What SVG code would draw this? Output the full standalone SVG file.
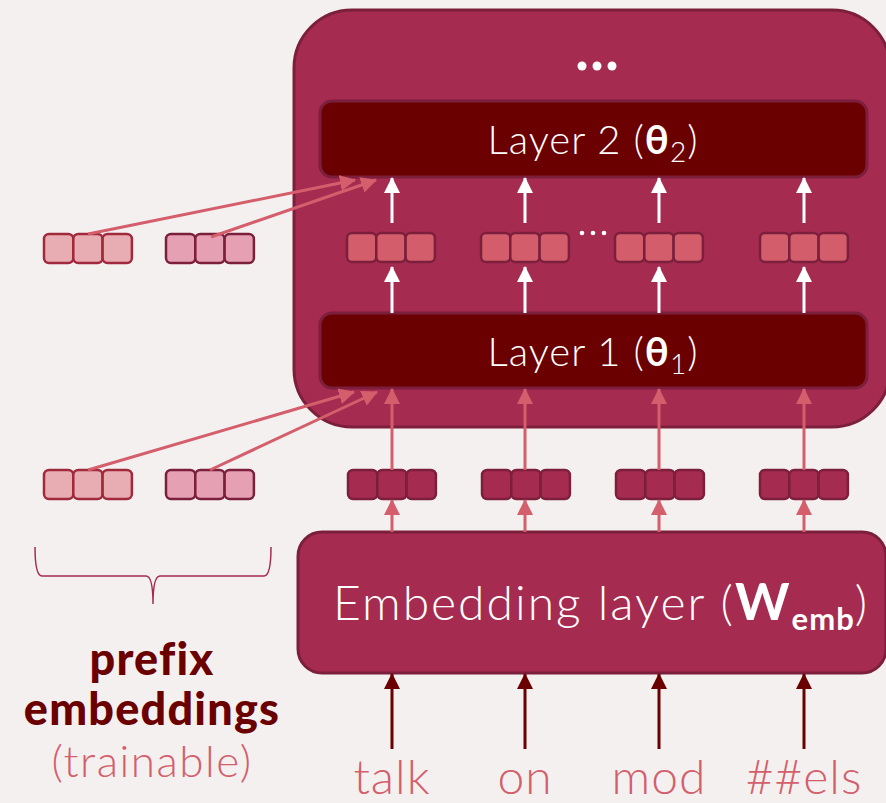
<svg xmlns="http://www.w3.org/2000/svg" width="886" height="803" viewBox="0 0 886 803">
  <defs>
    <style>
      .bg { fill: #f4f0ef; }
      .frame { fill: #a62b50; stroke: #7c1f3c; stroke-width: 3; }
      .layer { fill: #6b0000; stroke: #7c1f3c; stroke-width: 3; }
      .label { font-family: Lato, "Open Sans", sans-serif; font-weight: 300; fill: #ffffff; }
      .tok { font-family: Lato, "Open Sans", sans-serif; font-weight: 300; fill: #d35f6c; font-size: 48px; letter-spacing: 1px; text-anchor: middle; }
      .cellH { fill: #d35d6b; stroke: #7c1f3c; stroke-width: 2.5; }
      .cellE { fill: #a62b50; stroke: #7c1f3c; stroke-width: 2.5; }
      .cellA { fill: #e8adb3; stroke: #a0293c; stroke-width: 2.5; }
      .cellB { fill: #e5a0b3; stroke: #7c1f3c; stroke-width: 2.5; }
      .wArrow { stroke: #ffffff; stroke-width: 3; fill: none; marker-end: url(#headW); }
      .rArrow { stroke: #d45e6b; stroke-width: 3; fill: none; marker-end: url(#headR); }
      .dArrow { stroke: #6b0000; stroke-width: 3; fill: none; marker-end: url(#headD); }
    </style>
    <marker id="headW" markerUnits="userSpaceOnUse" markerWidth="16" markerHeight="16" viewBox="0 0 16 16" refX="15" refY="8" orient="auto">
      <path d="M0,0 L16,8 L0,16 Z" fill="#ffffff"/>
    </marker>
    <marker id="headR" markerUnits="userSpaceOnUse" markerWidth="16" markerHeight="16" viewBox="0 0 16 16" refX="15" refY="8" orient="auto">
      <path d="M0,0 L16,8 L0,16 Z" fill="#d45e6b"/>
    </marker>
    <marker id="headD" markerUnits="userSpaceOnUse" markerWidth="16" markerHeight="16" viewBox="0 0 16 16" refX="15" refY="8" orient="auto">
      <path d="M0,0 L16,8 L0,16 Z" fill="#6b0000"/>
    </marker>
  </defs>

  <rect class="bg" x="0" y="0" width="886" height="803"/>

  <!-- transformer stack -->
  <g id="stack">
    <rect class="frame" x="294" y="10" width="596" height="417" rx="58"/>
    <g fill="#ffffff">
      <circle cx="582" cy="66" r="4.5"/>
      <circle cx="597" cy="66" r="4.5"/>
      <circle cx="612" cy="66" r="4.5"/>
    </g>
  </g>

  <g id="layer2">
    <rect class="layer" x="320" y="101" width="547" height="76" rx="12"/>
    <text class="label" x="593" y="154" font-size="40" letter-spacing="1" text-anchor="middle">Layer 2 (<tspan font-weight="700">θ</tspan><tspan font-size="28" dy="8">2</tspan><tspan dy="-8">)</tspan></text>
  </g>

  <g id="layer1">
    <rect class="layer" x="320" y="313" width="547" height="75" rx="12"/>
    <text class="label" x="593" y="366" font-size="40" letter-spacing="1" text-anchor="middle">Layer 1 (<tspan font-weight="700">θ</tspan><tspan font-size="28" dy="8">1</tspan><tspan dy="-8">)</tspan></text>
  </g>

  <g id="embedding">
    <rect class="frame" x="298" y="532" width="588" height="141" rx="24"/>
    <text class="label" x="333" y="620" font-size="48" letter-spacing="2">Embedding layer (<tspan font-weight="700" font-size="52">W</tspan><tspan font-weight="700" font-size="31" dy="10" letter-spacing="1">emb</tspan><tspan dy="-10">)</tspan></text>
  </g>

  <!-- hidden states between layer 1 and layer 2 -->
  <g id="hidden1">
    <rect class="cellH" x="347" y="233" width="29.3" height="29" rx="5"/>
    <rect class="cellH" x="376.3" y="233" width="29.3" height="29" rx="5"/>
    <rect class="cellH" x="405.6" y="233" width="29.3" height="29" rx="5"/>
  </g>
  <g id="hidden2">
    <rect class="cellH" x="481" y="233" width="29.3" height="29" rx="5"/>
    <rect class="cellH" x="510.3" y="233" width="29.3" height="29" rx="5"/>
    <rect class="cellH" x="539.6" y="233" width="29.3" height="29" rx="5"/>
  </g>
  <g id="hiddenGap" fill="#ffffff">
    <circle cx="582" cy="233" r="2.3"/>
    <circle cx="593" cy="233" r="2.3"/>
    <circle cx="604" cy="233" r="2.3"/>
  </g>
  <g id="hidden3">
    <rect class="cellH" x="615" y="233" width="29.3" height="29" rx="5"/>
    <rect class="cellH" x="644.3" y="233" width="29.3" height="29" rx="5"/>
    <rect class="cellH" x="673.6" y="233" width="29.3" height="29" rx="5"/>
  </g>
  <g id="hidden4">
    <rect class="cellH" x="760" y="233" width="29.3" height="29" rx="5"/>
    <rect class="cellH" x="789.3" y="233" width="29.3" height="29" rx="5"/>
    <rect class="cellH" x="818.6" y="233" width="29.3" height="29" rx="5"/>
  </g>

  <!-- token embeddings -->
  <g id="emb1">
    <rect class="cellE" x="348" y="470" width="29.3" height="29" rx="5"/>
    <rect class="cellE" x="377.3" y="470" width="29.3" height="29" rx="5"/>
    <rect class="cellE" x="406.6" y="470" width="29.3" height="29" rx="5"/>
  </g>
  <g id="emb2">
    <rect class="cellE" x="482" y="470" width="29.3" height="29" rx="5"/>
    <rect class="cellE" x="511.3" y="470" width="29.3" height="29" rx="5"/>
    <rect class="cellE" x="540.6" y="470" width="29.3" height="29" rx="5"/>
  </g>
  <g id="emb3">
    <rect class="cellE" x="616" y="470" width="29.3" height="29" rx="5"/>
    <rect class="cellE" x="645.3" y="470" width="29.3" height="29" rx="5"/>
    <rect class="cellE" x="674.6" y="470" width="29.3" height="29" rx="5"/>
  </g>
  <g id="emb4">
    <rect class="cellE" x="760" y="470" width="29.3" height="29" rx="5"/>
    <rect class="cellE" x="789.3" y="470" width="29.3" height="29" rx="5"/>
    <rect class="cellE" x="818.6" y="470" width="29.3" height="29" rx="5"/>
  </g>

  <!-- trainable prefix vectors, layer 2 input -->
  <g id="prefix2a">
    <rect class="cellA" x="44" y="234" width="29.3" height="29" rx="5"/>
    <rect class="cellA" x="73.3" y="234" width="29.3" height="29" rx="5"/>
    <rect class="cellA" x="102.6" y="234" width="29.3" height="29" rx="5"/>
  </g>
  <g id="prefix2b">
    <rect class="cellB" x="166" y="234" width="29.3" height="29" rx="5"/>
    <rect class="cellB" x="195.3" y="234" width="29.3" height="29" rx="5"/>
    <rect class="cellB" x="224.6" y="234" width="29.3" height="29" rx="5"/>
  </g>

  <!-- trainable prefix vectors, layer 1 input -->
  <g id="prefix1a">
    <rect class="cellA" x="44" y="470" width="29.3" height="29" rx="5"/>
    <rect class="cellA" x="73.3" y="470" width="29.3" height="29" rx="5"/>
    <rect class="cellA" x="102.6" y="470" width="29.3" height="29" rx="5"/>
  </g>
  <g id="prefix1b">
    <rect class="cellB" x="166" y="470" width="29.3" height="29" rx="5"/>
    <rect class="cellB" x="195.3" y="470" width="29.3" height="29" rx="5"/>
    <rect class="cellB" x="224.6" y="470" width="29.3" height="29" rx="5"/>
  </g>

  <!-- connectors -->
  <g id="connectors">
    <!-- inside the stack -->
    <line class="wArrow" x1="392" y1="313" x2="392" y2="267"/>
    <line class="wArrow" x1="525" y1="313" x2="525" y2="267"/>
    <line class="wArrow" x1="659" y1="313" x2="659" y2="267"/>
    <line class="wArrow" x1="804" y1="313" x2="804" y2="267"/>
    <line class="wArrow" x1="392" y1="223" x2="392" y2="178"/>
    <line class="wArrow" x1="525" y1="223" x2="525" y2="178"/>
    <line class="wArrow" x1="659" y1="223" x2="659" y2="178"/>
    <line class="wArrow" x1="804" y1="223" x2="804" y2="178"/>
    <!-- prefixes into layers -->
    <line class="rArrow" x1="88" y1="234" x2="355" y2="180"/>
    <line class="rArrow" x1="211" y1="237" x2="376" y2="180"/>
    <line class="rArrow" x1="88" y1="470" x2="354" y2="392"/>
    <line class="rArrow" x1="210" y1="470" x2="377" y2="392"/>
    <!-- token embeddings into layer 1 -->
    <line class="rArrow" x1="392" y1="470" x2="392" y2="389"/>
    <line class="rArrow" x1="525" y1="470" x2="525" y2="389"/>
    <line class="rArrow" x1="659" y1="470" x2="659" y2="389"/>
    <line class="rArrow" x1="804" y1="470" x2="804" y2="389"/>
    <!-- embedding layer to token embeddings -->
    <line class="rArrow" x1="392" y1="532" x2="392" y2="500"/>
    <line class="rArrow" x1="525" y1="532" x2="525" y2="500"/>
    <line class="rArrow" x1="659" y1="532" x2="659" y2="500"/>
    <line class="rArrow" x1="804" y1="532" x2="804" y2="500"/>
    <!-- tokens into embedding layer -->
    <line class="dArrow" x1="392" y1="749" x2="392" y2="674"/>
    <line class="dArrow" x1="525" y1="749" x2="525" y2="674"/>
    <line class="dArrow" x1="659" y1="749" x2="659" y2="674"/>
    <line class="dArrow" x1="804" y1="749" x2="804" y2="674"/>
  </g>

  <!-- brace under the prefixes -->
  <g id="brace">
    <path d="M35,547 Q35,576 42,576 L146,576 Q153,576 153,604 Q153,576 160,576 L264,576 Q271,576 271,547" fill="none" stroke="#a62b50" stroke-width="1.5"/>
  </g>

  <g id="prefixLabel">
    <text x="152" y="675" font-family="Lato, 'Open Sans', sans-serif" font-weight="900" font-size="45" letter-spacing="1.2" fill="#6b0000" text-anchor="middle">prefix</text>
    <text x="152" y="725" font-family="Lato, 'Open Sans', sans-serif" font-weight="900" font-size="45" letter-spacing="1.2" fill="#6b0000" text-anchor="middle">embeddings</text>
    <text x="152" y="777" font-family="Lato, 'Open Sans', sans-serif" font-weight="300" font-size="44" letter-spacing="1.5" fill="#d35f6c" text-anchor="middle">(trainable)</text>
  </g>

  <g id="tokens">
    <text class="tok" x="392" y="794">talk</text>
    <text class="tok" x="525" y="794">on</text>
    <text class="tok" x="659" y="794">mod</text>
    <text class="tok" x="804" y="794">##els</text>
  </g>
</svg>
